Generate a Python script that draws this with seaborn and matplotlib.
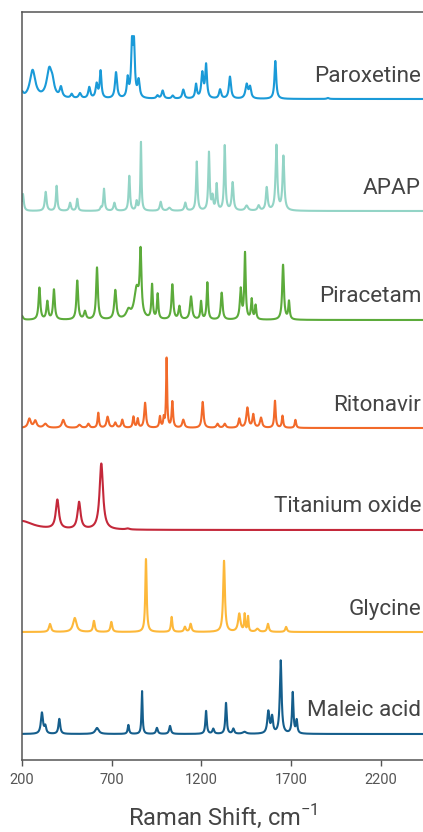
import matplotlib
matplotlib.use("Agg")
import matplotlib.pyplot as plt
import seaborn as sns
import numpy as np
import pandas as pd

# Peak tables: position (cm-1), height (px), half width (cm-1)
PAROXETINE_POS = [200, 259, 352, 370, 417, 477, 523, 575, 616, 638, 724, 789, 813, 824, 850,
                  955, 984, 1040, 1099, 1170, 1205, 1226, 1304, 1359, 1452, 1471, 1612, 1905]
PAROXETINE_HT = [5, 28, 28, 10, 10, 4, 5, 11, 14, 27, 26, 19, 50, 50, 17,
                 3, 8, 3, 9, 14, 25, 33, 9, 22, 14, 11, 38, 1]
PAROXETINE_W = [8, 16, 15, 10, 7, 6, 7, 6, 6, 5, 6, 5, 5, 5, 6,
                6, 6, 6, 6, 5, 6, 5, 6, 6, 7, 6, 5, 6]

APAP_POS = [205, 332, 393, 468, 508, 640, 657, 715, 798, 839, 863, 973, 1021, 1110,
            1174, 1242, 1262, 1285, 1330, 1374, 1452, 1519, 1564, 1618, 1657]
APAP_HT = [17, 19, 25, 8, 12, 3, 22, 8, 35, 9, 69, 9, 3, 8,
           49, 58, 13, 26, 65, 28, 5, 5, 23, 65, 54]
APAP_W = [5, 5, 4, 5, 4, 4, 4, 5, 4, 4, 3, 5, 8, 5,
          4, 4, 4, 4, 4, 5, 8, 6, 5, 5, 5]

PIRACETAM_POS = [200, 297, 341, 378, 508, 551, 618, 720, 793, 839, 861, 925, 956, 1038,
                 1077, 1142, 1198, 1233, 1313, 1419, 1443, 1480, 1502, 1655, 1688]
PIRACETAM_HT = [4, 32, 18, 30, 39, 8, 52, 29, 8, 30, 62, 34, 25, 35,
                13, 23, 18, 37, 27, 30, 66, 20, 14, 55, 18]
PIRACETAM_W = [6, 5, 5, 5, 5, 6, 5, 6, 12, 14, 5, 4, 4, 5,
               5, 6, 4, 4, 5, 5, 4, 4, 4, 5, 4]

RITONAVIR_POS = [241, 274, 330, 430, 520, 570, 625, 677, 720, 759, 821, 845, 886, 969,
                 990, 1006, 1038, 1099, 1207, 1290, 1330, 1411, 1456, 1489, 1532, 1610, 1652, 1724]
RITONAVIR_HT = [9, 7, 4, 8, 3, 4, 15, 11, 5, 8, 11, 9, 25, 11,
                9, 70, 26, 8, 26, 4, 4, 9, 20, 13, 10, 27, 12, 8]
RITONAVIR_W = [8, 8, 10, 8, 8, 6, 4, 6, 6, 5, 4, 4, 5, 4,
               3, 3, 4, 6, 5, 6, 6, 5, 6, 5, 6, 4, 4, 4]

TIO2_POS = [195, 397, 518, 642, 789]
TIO2_HT = [9, 29, 27, 66, 1]
TIO2_W = [70, 9, 9, 10, 10]

GLYCINE_POS = [356, 494, 601, 698, 891, 1034, 1108, 1140, 1326, 1411, 1441, 1460, 1512, 1571, 1672]
GLYCINE_HT = [8, 14, 11, 10, 73, 15, 5, 8, 71, 18, 17, 15, 3, 8, 5]
GLYCINE_W = [6, 10, 5, 5, 4, 4, 5, 5, 5, 7, 3, 3, 8, 5, 5]

MALEIC_POS = [311, 330, 408, 618, 793, 869, 952, 1025, 1226, 1266, 1337, 1378, 1440,
              1573, 1594, 1642, 1709, 1731]
MALEIC_HT = [21, 7, 15, 6, 9, 43, 6, 8, 23, 5, 31, 5, 2, 22, 16, 73, 41, 13]
MALEIC_W = [6, 5, 5, 10, 4, 3, 5, 5, 4, 5, 4, 5, 10, 6, 5, 5, 4, 4]

NAMES = ["Paroxetine", "APAP", "Piracetam", "Ritonavir", "Titanium oxide", "Glycine", "Maleic acid"]
OFFSETS = [661, 549, 440, 332, 230, 128, 26]
COLORS = ["#1a9ad8", "#93d4c6", "#5cab3b", "#f26a2a", "#c4283a", "#fdb83a", "#155e8c"]
XTICKS = [200, 700, 1200, 1700, 2200]

PEAKS = [
    (PAROXETINE_POS, PAROXETINE_HT, PAROXETINE_W),
    (APAP_POS, APAP_HT, APAP_W),
    (PIRACETAM_POS, PIRACETAM_HT, PIRACETAM_W),
    (RITONAVIR_POS, RITONAVIR_HT, RITONAVIR_W),
    (TIO2_POS, TIO2_HT, TIO2_W),
    (GLYCINE_POS, GLYCINE_HT, GLYCINE_W),
    (MALEIC_POS, MALEIC_HT, MALEIC_W),
]


def spectrum(shift, pos, ht, w):
    # sum of lorentzian bands for the listed peaks
    y = np.zeros_like(shift)
    for p, h, g in zip(pos, ht, w):
        y += h / (1.0 + ((shift - p) / (g * 1.15)) ** 2)
    return y


sns.set_style("white")
plt.rcParams["font.family"] = ["Roboto", "DejaVu Sans"]

fig = plt.figure(figsize=(4.23, 8.32), dpi=100)
ax = fig.add_axes([22 / 423, 72 / 832, 401 / 423, 748 / 832])

shift = np.linspace(200, 2435, 3000)
for name, off, color, (pos, ht, w) in zip(NAMES, OFFSETS, COLORS, PEAKS):
    df = pd.DataFrame({"shift": shift, "counts": off + spectrum(shift, pos, ht, w)})
    sns.lineplot(data=df, x="shift", y="counts", color=color, linewidth=1.5, ax=ax)
    ax.text(2424, off + 23, name, ha="right", va="center", fontsize=16.2, color="#444444")

ax.set_xlim(200, 2435)
ax.set_ylim(0, 748)
ax.set_xticks(XTICKS)
ax.set_xticklabels([str(t) for t in XTICKS])
ax.set_yticks([])
ax.set_ylabel("")
ax.set_xlabel("Raman Shift, cm$^{\\mathregular{-1}}$", fontsize=17, color="#444444", labelpad=11)
ax.tick_params(axis="x", direction="out", length=4, width=1, colors="#555555",
               labelsize=10.5, pad=5, bottom=True)
for side in ["left", "top", "bottom"]:
    ax.spines[side].set_color("#555555")
    ax.spines[side].set_linewidth(1.1)
ax.spines["right"].set_visible(False)

fig.savefig("out.png", dpi=100)
